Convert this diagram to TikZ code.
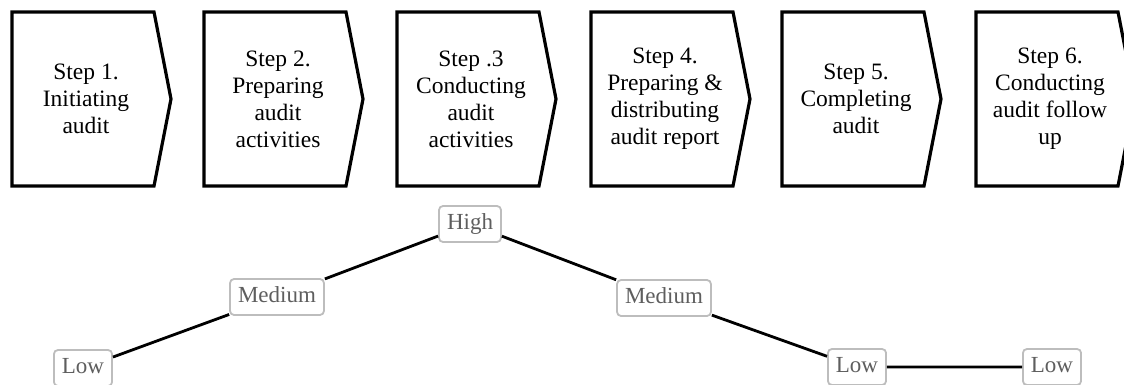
\documentclass[tikz,border=0pt]{standalone}
\usepackage{fontspec}
\setmainfont{Liberation Serif}
\definecolor{lvlborder}{HTML}{BDBDBD}
\definecolor{lvltext}{HTML}{5E5E5E}
\begin{document}
\begin{tikzpicture}[x=1pt,y=-1pt,
    stepshape/.style={line width=3.2pt,line join=miter},
    steptext/.style={align=center,inner sep=0pt,font=\fontsize{23.5}{27}\selectfont},
    level/.style={draw=lvlborder,line width=1.8pt,rounded corners=4pt,fill=white,
        text=lvltext,font=\fontsize{23}{26}\selectfont,
        text height=15pt,text depth=5pt,inner ysep=8pt,inner xsep=8pt},
    link/.style={line width=2.8pt}]
\useasboundingbox (0,0) rectangle (1124,385);
% the six steps
\foreach \x/\name/\txt in {12/s1/{Step 1.\\Initiating\\audit},
        204/s2/{Step 2.\\Preparing\\audit\\activities},
        397/s3/{Step .3\\Conducting\\audit\\activities},
        591/s4/{Step 4.\\Preparing \&\\distributing\\audit report},
        782/s5/{Step 5.\\Completing\\audit},
        976/s6/{Step 6.\\Conducting\\audit follow\\up}}{
    \draw[stepshape] (\x,12) -- ++(142,0) -- ++(17,87) -- ++(-17,87) -- ++(-142,0) -- cycle;
    \node[steptext] (\name) at (\x+74,99) {\txt};
}
% levels
\node[level] (high) at (470,224) {High};
\node[level] (med1) at (277,297) {Medium};
\node[level] (low1) at (83,368) {Low};
\node[level] (med2) at (664,298) {Medium};
\node[level] (low2) at (857,367) {Low};
\node[level] (low3) at (1052,367) {Low};
\draw[link] (low1) -- (med1) -- (high) -- (med2) -- (low2) -- (low3);
\end{tikzpicture}
\end{document}
